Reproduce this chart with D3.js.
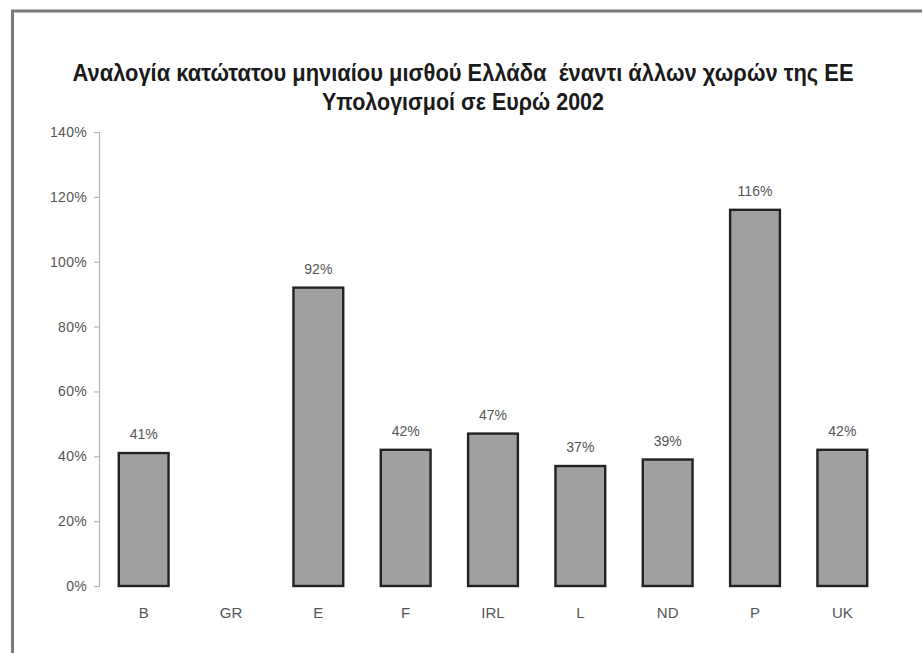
<!DOCTYPE html>
<html>
<head>
<meta charset="utf-8">
<script src="https://cdn.jsdelivr.net/npm/d3@7"></script>
<style>
  html, body { margin: 0; padding: 0; background: #fff; }
  svg { display: block; }
  text { white-space: pre; }
</style>
</head>
<body>
<svg id="chart" width="922" height="653"></svg>
<script>
const categories = ["B", "GR", "E", "F", "IRL", "L", "ND", "P", "UK"];
const values = [0.41, null, 0.92, 0.42, 0.47, 0.37, 0.39, 1.16, 0.42];
const valueLabels = ["41%", "", "92%", "42%", "47%", "37%", "39%", "116%", "42%"];
const yTicks = [0, 0.2, 0.4, 0.6, 0.8, 1.0, 1.2, 1.4];
const titleLines = ["Αναλογία κατώτατου μηνιαίου μισθού Ελλάδα  έναντι άλλων χωρών της ΕΕ", "Υπολογισμοί σε Ευρώ 2002"];

const svg = d3.select("#chart");

// outer frame (extends past right and bottom edges)
svg.append("path")
  .attr("d", "M12.5,660 L12.5,11 L930,11")
  .attr("fill", "none")
  .attr("stroke", "#7a7a7a")
  .attr("stroke-width", 3);

const x = d3.scaleBand().domain(categories).range([100, 886]).paddingInner(0.43).paddingOuter(0.215);
const y = d3.scaleLinear().domain([0, 1.4]).range([586, 132]);

// title
const titleW = [781, 282];
titleLines.forEach((t, i) => {
  svg.append("text")
    .attr("x", 463)
    .attr("y", i === 0 ? 81 : 110)
    .attr("text-anchor", "middle")
    .attr("font-family", "'Liberation Sans Narrow', 'Liberation Sans', Arial, sans-serif")
    .attr("font-weight", "bold")
    .attr("font-size", 23)
    .attr("fill", "#1a1a1a")
    .attr("textLength", titleW[i])
    .attr("lengthAdjust", "spacingAndGlyphs")
    .text(t);
});

const lblFont = "'Liberation Sans', Arial, sans-serif";

// y axis
const yAxis = d3.axisLeft(y).tickValues(yTicks).tickFormat(d3.format(".0%")).tickSize(5).tickPadding(7);
const gy = svg.append("g").attr("transform", "translate(99,0)").call(yAxis);
gy.select(".domain").attr("stroke", "#b5b5b5").attr("stroke-width", 1.2).attr("d", "M-5,132.5H0.5V586.5H-5");
gy.selectAll(".tick line").attr("stroke", "#b5b5b5").attr("stroke-width", 1.2);
gy.selectAll(".tick text")
  .attr("font-family", lblFont)
  .attr("font-size", 14)
  .attr("fill", "#555")
  .attr("letter-spacing", "0.3");

// x labels
const xAxis = d3.axisBottom(x).tickSize(0).tickPadding(21);
const gx = svg.append("g").attr("transform", "translate(0,586)").call(xAxis);
gx.select(".domain").remove();
gx.selectAll(".tick text")
  .attr("font-family", lblFont)
  .attr("font-size", 15)
  .attr("fill", "#555");

// bars
const data = categories.map((c, i) => ({ c, v: values[i], l: valueLabels[i] })).filter(d => d.v != null);
svg.append("g").selectAll("rect").data(data).join("rect")
  .attr("x", d => x(d.c))
  .attr("y", d => y(d.v))
  .attr("width", x.bandwidth())
  .attr("height", d => y(0) - y(d.v))
  .attr("fill", "#a0a0a0")
  .attr("stroke", "#222")
  .attr("stroke-width", 2.4);

// value labels
svg.append("g").selectAll("text").data(data).join("text")
  .attr("x", d => x(d.c) + x.bandwidth() / 2)
  .attr("y", d => y(d.v) - 14)
  .attr("text-anchor", "middle")
  .attr("font-family", lblFont)
  .attr("font-size", 14)
  .attr("fill", "#555")
  .text(d => d.l);
</script>
</body>
</html>
